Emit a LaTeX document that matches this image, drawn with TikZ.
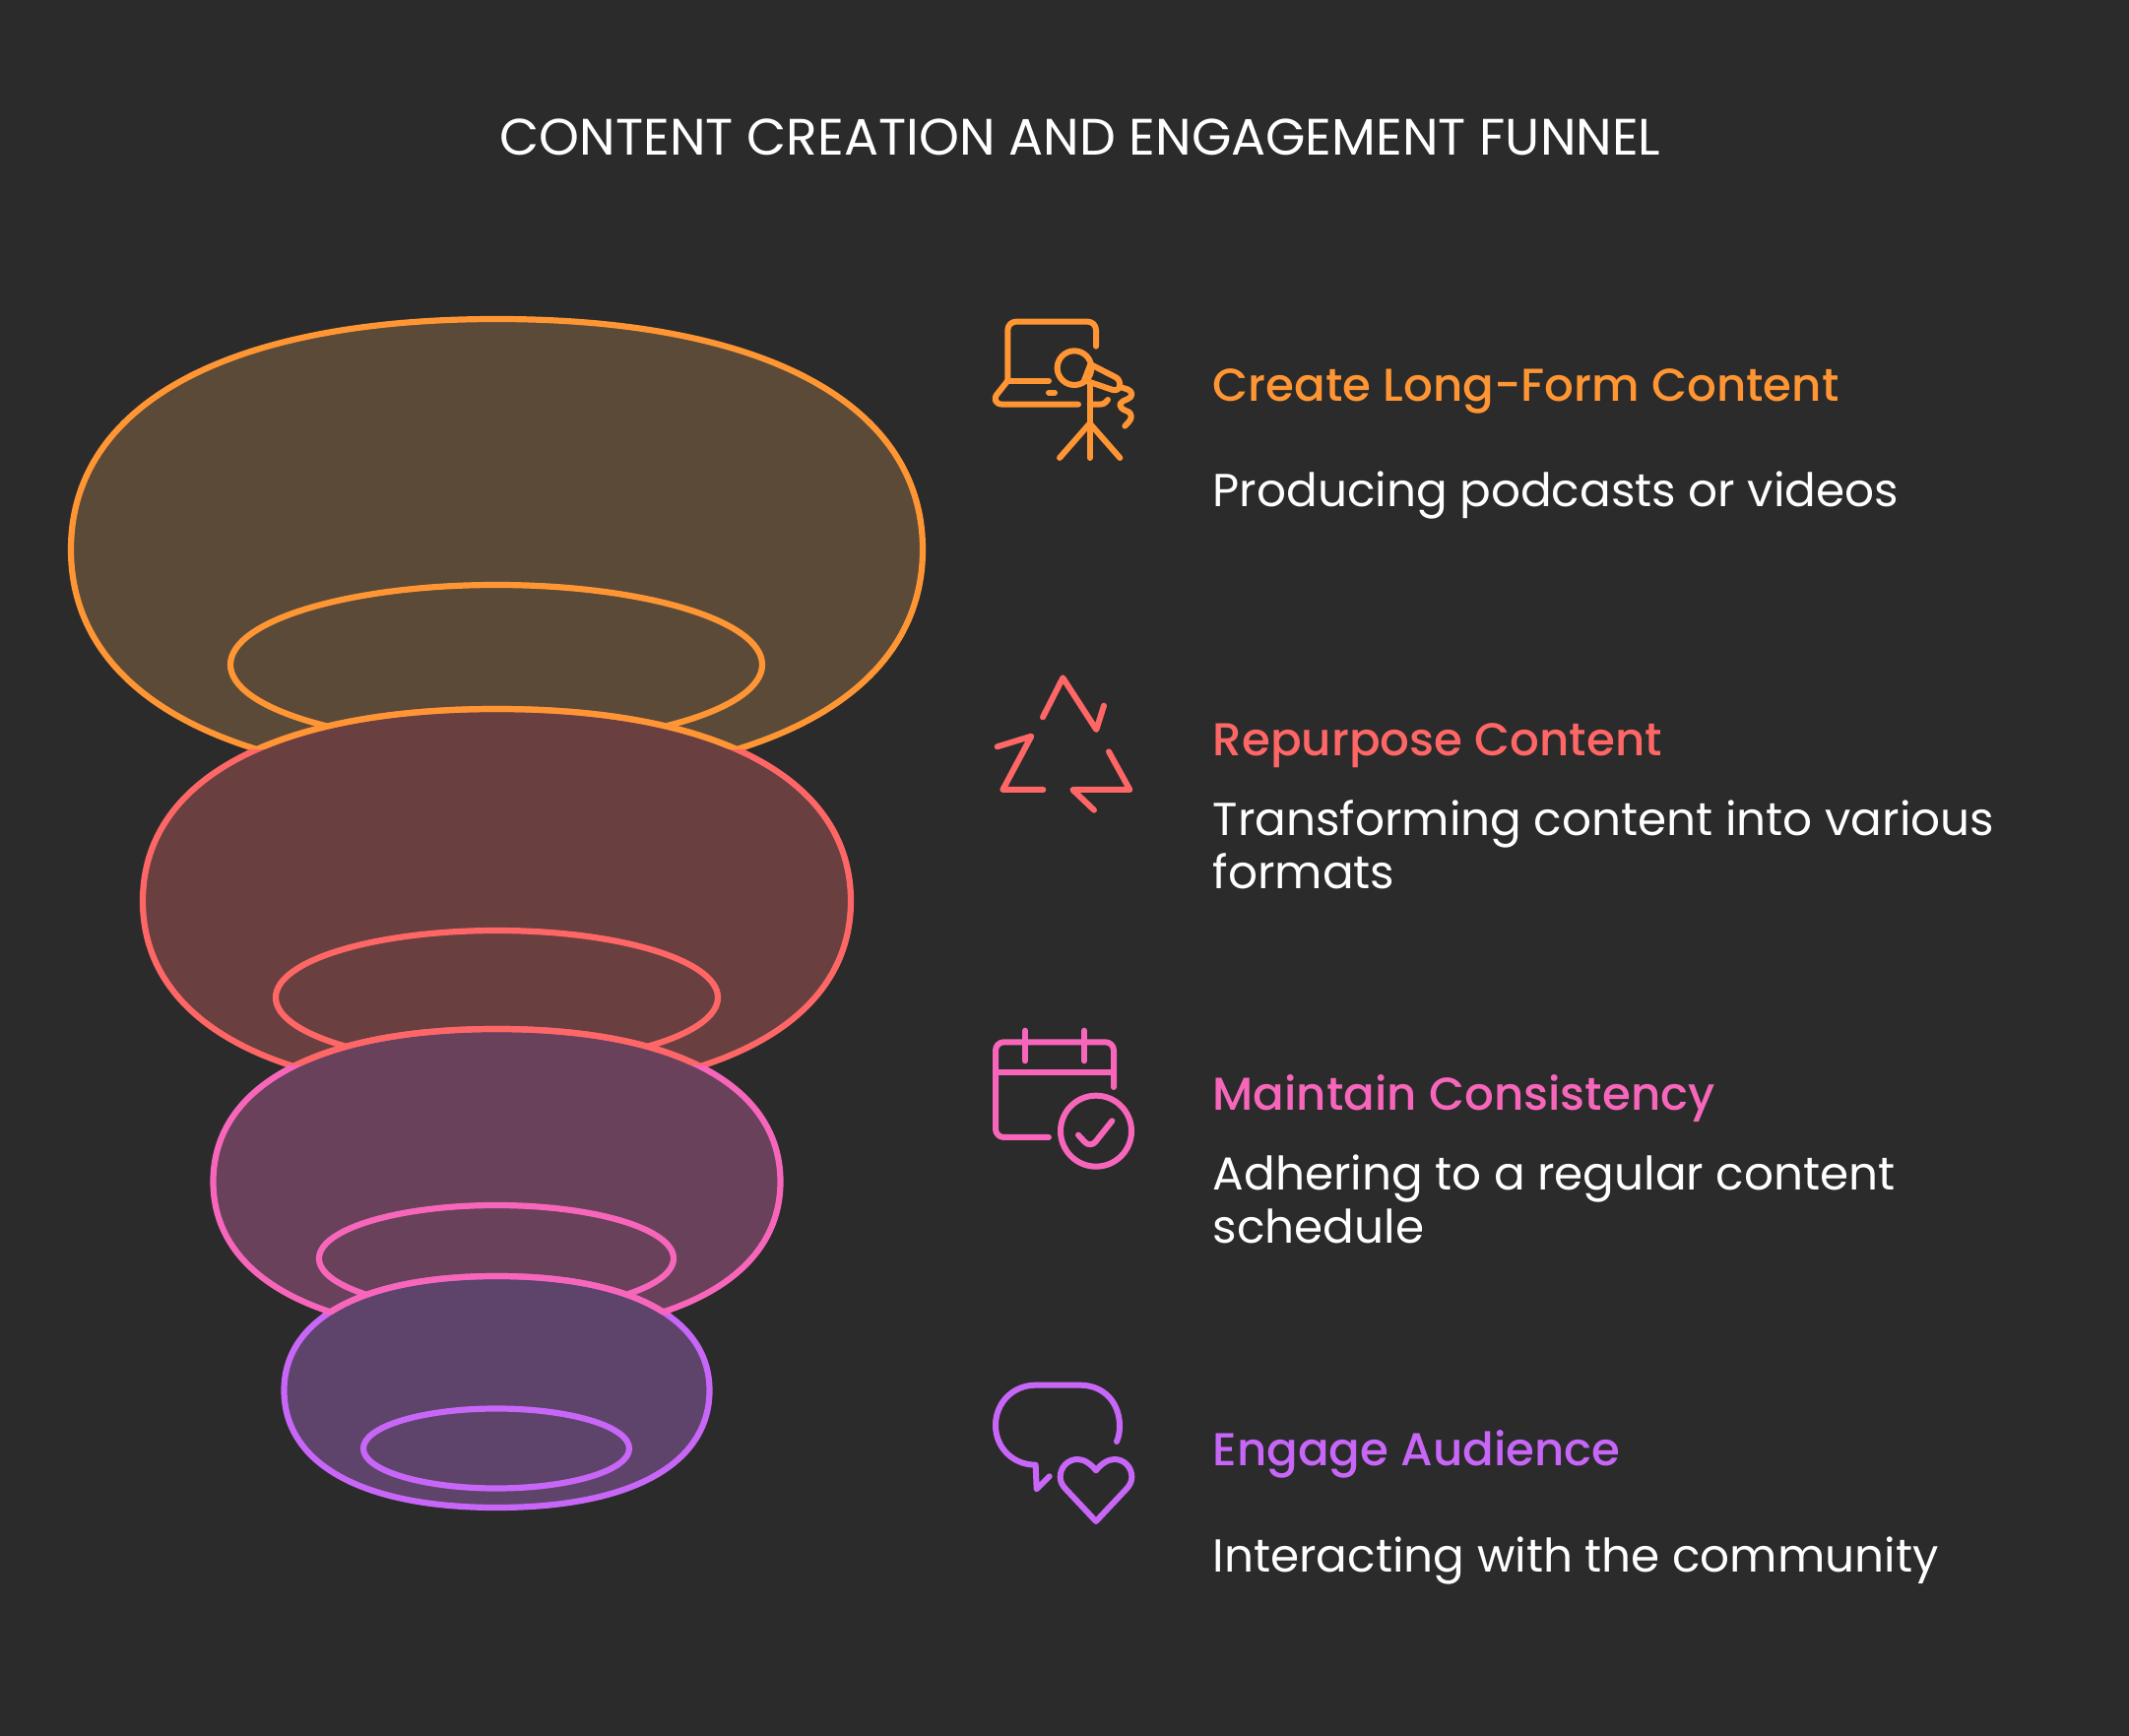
\documentclass[tikz,border=0pt]{standalone}
\usepackage{fontspec}
\setmainfont{Poppins}
\newfontfamily\headfont{Poppins Medium}
\usetikzlibrary{positioning}
\definecolor{bgdark}{HTML}{2B2B2B}
\definecolor{orangeline}{HTML}{FF9633}
\definecolor{redline}{HTML}{FF6666}
\definecolor{pinkline}{HTML}{F766BB}
\definecolor{purpleline}{HTML}{C766F7}
\definecolor{orangefill}{HTML}{5C4A38}
\definecolor{redfill}{HTML}{693F40}
\definecolor{pinkfill}{HTML}{6A415A}
\definecolor{purplefill}{HTML}{5E436B}
\begin{document}
\begin{tikzpicture}[
  x=0.1mm, y=-0.1mm,
  blob/.style={line width=0.62mm},
  icon/.style={line width=0.6mm, line cap=round, line join=round},
  heading/.style={anchor=base west, inner sep=0pt, font=\fontsize{13.3}{15.4}\selectfont\headfont},
  desc/.style={anchor=base west, inner sep=0pt, align=left, text=white, font=\fontsize{13.35}{15.4}\selectfont}
]

% Background
\fill[bgdark] (0, 0) rectangle (2162, 1763);

% Title
\node[text=white, inner sep=0pt, anchor=base, font=\fontsize{14.8}{17}\selectfont] (title) at (1097, 158) {CONTENT CREATION AND ENGAGEMENT FUNNEL};

% --- Funnel ---
\draw[blob, orangeline, fill=orangefill] (72, 558) .. controls (72, 410.6) and (232, 324) .. (504.5, 324) .. controls (777, 324) and (937, 410.6) .. (937, 558) .. controls (937, 705.4) and (777, 792) .. (504.5, 792) .. controls (232, 792) and (72, 705.4) .. (72, 558) -- cycle;
\draw[blob, orangeline] (504, 675) ellipse [x radius=270, y radius=81];

\draw[blob, redline, fill=redfill] (145, 915) .. controls (145, 792.1) and (278, 720) .. (504.5, 720) .. controls (731, 720) and (864, 792.1) .. (864, 915) .. controls (864, 1037.9) and (731, 1110) .. (504.5, 1110) .. controls (278, 1110) and (145, 1037.9) .. (145, 915) -- cycle;
\begin{scope}
  \clip (0, 0) rectangle (2162, 761);
  \draw[blob, orangeline] (145, 915) .. controls (145, 792.1) and (278, 720) .. (504.5, 720) .. controls (731, 720) and (864, 792.1) .. (864, 915);
\end{scope}
\draw[blob, redline] (504.5, 1013) ellipse [x radius=224.5, y radius=68];

\draw[blob, pinkline, fill=pinkfill] (216.5, 1200) .. controls (216.5, 1102.3) and (323.1, 1045) .. (504.5, 1045) .. controls (685.9, 1045) and (792.5, 1102.3) .. (792.5, 1200) .. controls (792.5, 1297.7) and (685.9, 1355) .. (504.5, 1355) .. controls (323.1, 1355) and (216.5, 1297.7) .. (216.5, 1200) -- cycle;
\begin{scope}
  \clip (0, 0) rectangle (2162, 1082);
  \draw[blob, redline] (216.5, 1200) .. controls (216.5, 1102.3) and (323.1, 1045) .. (504.5, 1045) .. controls (685.9, 1045) and (792.5, 1102.3) .. (792.5, 1200);
\end{scope}
\draw[blob, pinkline] (504, 1278) ellipse [x radius=180, y radius=54];

\draw[blob, purpleline, fill=purplefill] (288.5, 1412) .. controls (288.5, 1338.9) and (368.5, 1296) .. (504.5, 1296) .. controls (640.5, 1296) and (720.5, 1338.9) .. (720.5, 1412) .. controls (720.5, 1487) and (640.5, 1531) .. (504.5, 1531) .. controls (368.5, 1531) and (288.5, 1487) .. (288.5, 1412) -- cycle;
\begin{scope}
  \clip (0, 0) rectangle (2162, 1334);
  \draw[blob, pinkline] (288.5, 1412) .. controls (288.5, 1338.9) and (368.5, 1296) .. (504.5, 1296) .. controls (640.5, 1296) and (720.5, 1338.9) .. (720.5, 1412);
\end{scope}
\draw[blob, purpleline] (504, 1471) ellipse [x radius=135, y radius=40.5];

% --- Icon: laptop and microphone ---
\begin{scope}[shift={(990, 310)}, scale=1/3, icon, orangeline]
  \draw[rounded corners=2.4pt] (369, 125) -- (369, 50) -- (100, 50) -- (100, 230);
  \draw (100, 230) -- (225, 230);
  \draw (100, 230) -- (70, 268) .. controls (54, 285) and (62, 302) .. (85, 302) -- (315, 302);
  \draw (225, 266) -- (243, 266);
  \draw (303, 191) circle [radius=52];
  \draw (332, 232) -- (352, 180) -- (430, 220) .. controls (448, 230) and (445, 265) .. (420, 258) -- (338, 230);
  \draw (350, 240) -- (350, 465);
  \draw (350, 360) -- (258, 465);
  \draw (350, 360) -- (442, 465);
  \draw (350, 302) -- (380, 302) .. controls (392, 302) and (400, 296) .. (405, 288);
  \draw (445, 250) -- (465, 256) .. controls (482, 262) and (482, 280) .. (465, 286) .. controls (435, 296) and (435, 312) .. (462, 322) .. controls (482, 330) and (482, 345) .. (457, 368);
\end{scope}

% --- Icon: recycling arrows ---
\begin{scope}[shift={(990, 670)}, scale=1/3, icon, redline]
  \draw (207, 175) -- (268, 55) -- (370, 213) -- (393, 140);
  \draw (68, 265) -- (172, 233) -- (85, 396) -- (208, 396);
  \draw (408, 280) -- (472, 396) -- (298, 396) -- (363, 458);
\end{scope}

% --- Icon: calendar ---
\begin{scope}[shift={(990, 1030)}, scale=1/3, icon, pinkline]
  \draw[rounded corners=2.4pt] (423, 222) -- (423, 85) -- (63, 85) -- (63, 375) -- (225, 375);
  \draw (63, 177) -- (423, 177);
  \draw (153, 50) -- (153, 142);
  \draw (333, 50) -- (333, 142);
  \draw (369, 356) circle [radius=108];
  \draw[rounded corners=2.4pt] (315, 368) -- (352, 408) -- (418, 325);
\end{scope}

% --- Icon: speech bubble and heart ---
\begin{scope}[shift={(990, 1390)}, scale=1/3, icon, purpleline]
  \draw (432, 222) .. controls (438, 208) and (441, 192) .. (441, 175) .. controls (441, 105) and (395, 50) .. (320, 50) -- (185, 50) .. controls (115, 50) and (63, 105) .. (63, 172) .. controls (63, 240) and (115, 293) .. (185, 293) -- (188, 367) -- (227, 328);
  \draw (369, 310) .. controls (385, 290) and (405, 276) .. (425, 276) .. controls (455, 276) and (478, 300) .. (478, 330) .. controls (478, 345) and (470, 358) .. (460, 368) -- (369, 465) -- (278, 368) .. controls (268, 358) and (260, 345) .. (260, 330) .. controls (260, 300) and (283, 276) .. (313, 276) .. controls (333, 276) and (353, 290) .. (369, 310) -- cycle;
\end{scope}

% --- Text ---
\node[heading, text=orangeline] (create) at (1231, 408) {Create Long-Form Content};
\node[desc] (createtxt) at (1231, 515) {Producing podcasts or videos};

\node[heading, text=redline] (repurpose) at (1231, 768) {Repurpose Content};
\node[desc] (repurposetxt) at (1231, 903) {Transforming content into various\\formats};

\node[heading, text=pinkline] (maintain) at (1231, 1128) {Maintain Consistency};
\node[desc] (maintaintxt) at (1231, 1263) {Adhering to a regular content\\schedule};

\node[heading, text=purpleline] (engage) at (1231, 1488) {Engage Audience};
\node[desc] (engagetxt) at (1231, 1596) {Interacting with the community};

\end{tikzpicture}
\end{document}
